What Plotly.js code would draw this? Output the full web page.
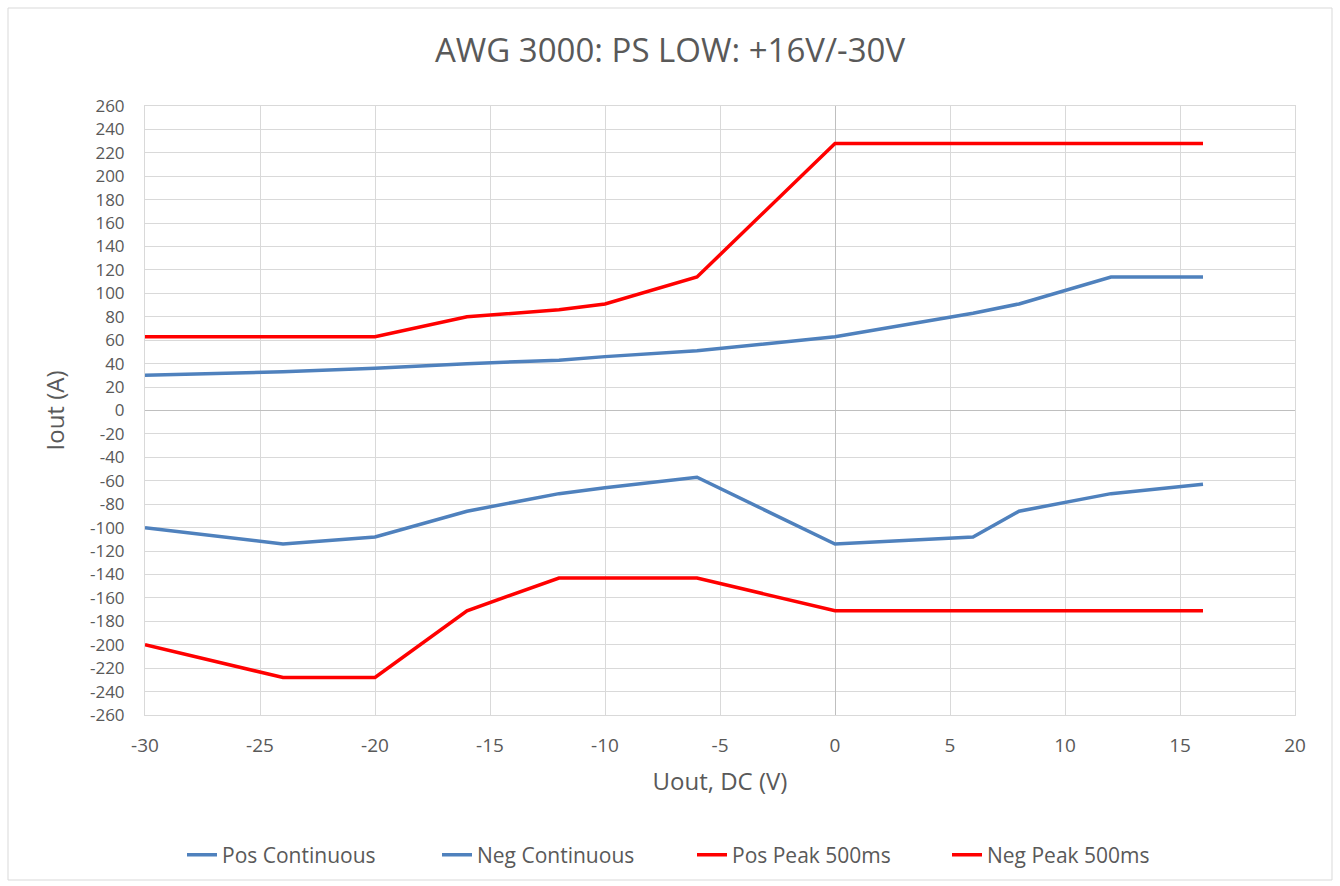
<!DOCTYPE html>
<html>
<head>
<meta charset="utf-8">
<script src="https://cdn.plot.ly/plotly-3.0.1.min.js"></script>
<style>html,body{margin:0;padding:0;background:#fff}#chart{width:1340px;height:886px}</style>
</head>
<body>
<div id="chart"></div>
<script>
const uPos = [-30, -24, -20, -16, -12, -10, -6, 0, 6, 8, 12, 16];
const posContinuous = [30, 33, 36, 40, 43, 46, 51, 63, 83, 91, 114, 114];
const negContinuous = [-100, -114, -108, -86, -71, -66, -57, -114, -108, -86, -71, -63];
const posPeak = [63, 63, 63, 80, 86, 91, 114, 228, 228, 228, 228, 228];
const negPeak = [-200, -228, -228, -171, -143, -143, -143, -171, -171, -171, -171, -171];
const seriesNames = ["Pos Continuous", "Neg Continuous", "Pos Peak 500ms", "Neg Peak 500ms"];
const xTicks = [-30, -25, -20, -15, -10, -5, 0, 5, 10, 15, 20];
const yTicks = [-260, -240, -220, -200, -180, -160, -140, -120, -100, -80, -60, -40, -20,
                0, 20, 40, 60, 80, 100, 120, 140, 160, 180, 200, 220, 240, 260];

const FONT = "'Open Sans', sans-serif";
const GREY = "#595959";
const blue = "#4f81bd", red = "#ff0000";
const mk = (y, name, color) => ({
  x: uPos, y: y, name: name, type: "scatter", mode: "lines",
  line: {color: color, width: 3.5}
});
const data = [
  mk(posContinuous, seriesNames[0], blue),
  mk(negContinuous, seriesNames[1], blue),
  mk(posPeak, seriesNames[2], red),
  mk(negPeak, seriesNames[3], red)
];
const layout = {
  width: 1340, height: 886,
  margin: {l: 145, r: 45, t: 106, b: 171},
  paper_bgcolor: "#fff", plot_bgcolor: "#fff",
  font: {family: FONT, color: GREY, size: 19},
  title: {text: "AWG 3000: PS LOW: +16V/-30V", font: {size: 33, color: GREY, family: FONT},
          x: 0.5, xref: "container", y: 1 - 50/886, yref: "container", yanchor: "middle"},
  xaxis: {
    range: [-30, 20], tickvals: xTicks, ticktext: xTicks.map(String),
    showgrid: true, gridcolor: "#d9d9d9", gridwidth: 1,
    zeroline: true, zerolinecolor: "#bfbfbf", zerolinewidth: 1,
    showline: true, linecolor: "#d9d9d9", mirror: true,
    ticks: "", ticklabelstandoff: 13,
    tickfont: {size: 19, color: GREY, family: FONT},
    title: {text: "Uout, DC (V)", font: {size: 24, color: GREY, family: FONT}, standoff: 16}
  },
  yaxis: {
    range: [-260, 260], tickvals: yTicks, ticktext: yTicks.map(String),
    showgrid: true, gridcolor: "#d9d9d9", gridwidth: 1,
    zeroline: true, zerolinecolor: "#bfbfbf", zerolinewidth: 1,
    showline: true, linecolor: "#d9d9d9", mirror: true,
    ticks: "", ticklabelstandoff: 16,
    tickfont: {size: 17, color: GREY, family: FONT},
    title: {text: "Iout (A)", font: {size: 24, color: GREY, family: FONT}, standoff: 18}
  },
  legend: {
    orientation: "h", x: 0.5 + 22/1340, xanchor: "center", xref: "container",
    y: 1 - 855/886, yref: "container", yanchor: "middle",
    font: {size: 21, color: GREY, family: FONT}, entrywidth: 210, entrywidthmode: "pixels",
    traceorder: "normal"
  },
  showlegend: true,
  shapes: [{
    type: "rect", xref: "paper", yref: "paper",
    x0: (8-145)/1150, x1: (1332-145)/1150, y0: (715-880)/609, y1: (715-8)/609,
    line: {color: "#d9d9d9", width: 1}, fillcolor: "rgba(0,0,0,0)", layer: "below"
  }]
};
Plotly.newPlot("chart", data, layout, {displayModeBar: false, staticPlot: true});
</script>
</body>
</html>
